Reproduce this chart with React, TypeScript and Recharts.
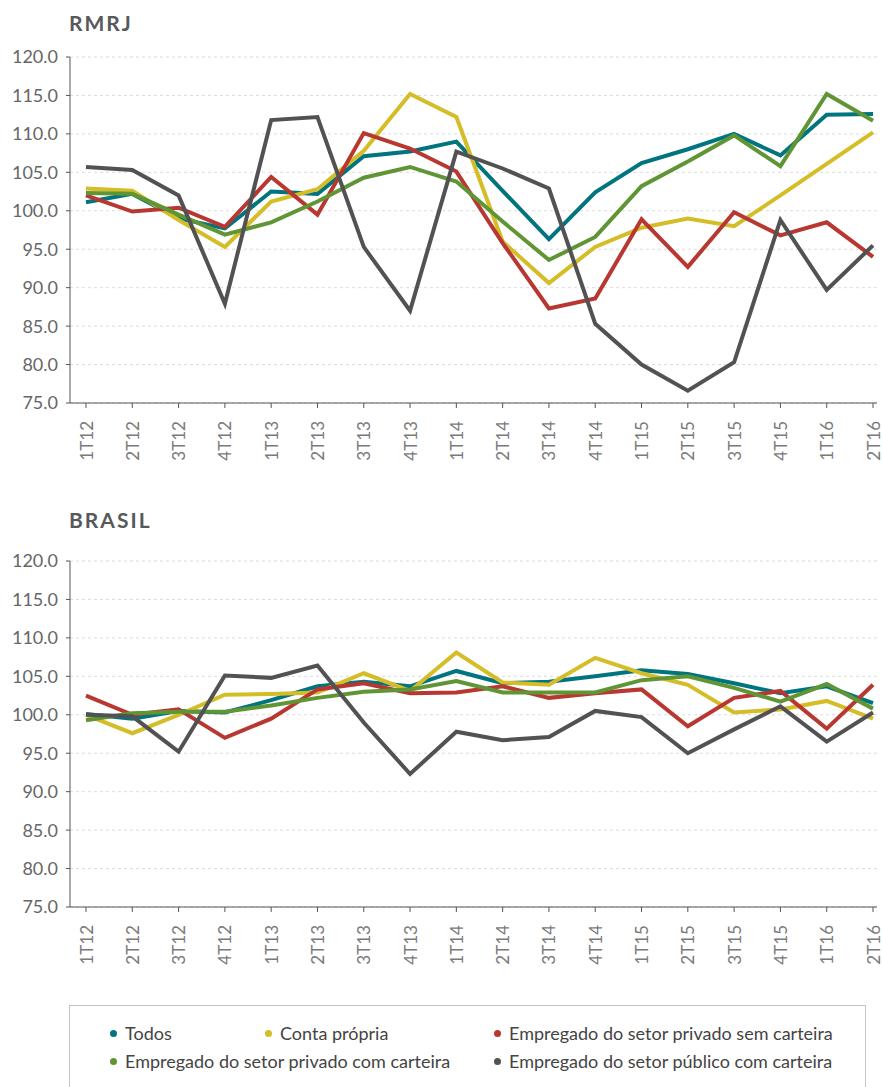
import React from "react";
import { CartesianGrid, Line, LineChart, XAxis, YAxis } from "recharts";

const categories = [
  "1T12", "2T12", "3T12", "4T12", "1T13", "2T13", "3T13", "4T13", "1T14",
  "2T14", "3T14", "4T14", "1T15", "2T15", "3T15", "4T15", "1T16", "2T16",
];

const yTicks = [75, 80, 85, 90, 95, 100, 105, 110, 115, 120];

// RMRJ
const rmrjTodos = [101.1, 102.2, 99.0, 97.7, 102.5, 102.2, 107.1, 107.7, 109.0, 102.6, 96.3, 102.4, 106.2, 108.0, 110.0, 107.2, 112.5, 112.6];
const rmrjConta = [102.9, 102.6, 98.8, 95.3, 101.2, 102.8, 107.8, 115.2, 112.2, 96.0, 90.6, 95.3, 97.8, 99.0, 98.0, 102.0, 106.1, 110.2];
const rmrjSemCarteira = [102.0, 99.9, 100.4, 97.9, 104.4, 99.5, 110.1, 108.1, 105.1, 95.8, 87.3, 88.6, 98.9, 92.7, 99.8, 96.8, 98.5, 94.0];
const rmrjComCarteira = [102.3, 102.2, 99.5, 96.9, 98.5, 101.2, 104.3, 105.7, 103.8, 98.6, 93.6, 96.6, 103.2, 106.4, 109.8, 105.8, 115.2, 111.7];
const rmrjPublico = [105.7, 105.3, 102.0, 87.9, 111.8, 112.2, 95.3, 87.0, 107.7, 105.5, 102.9, 85.3, 80.0, 76.6, 80.3, 98.8, 89.7, 95.5];

// Brasil
const brTodos = [100.1, 99.5, 100.5, 100.3, 101.9, 103.7, 104.3, 103.7, 105.7, 104.1, 104.3, 105.0, 105.8, 105.3, 104.1, 102.8, 103.7, 101.5];
const brConta = [100.0, 97.6, 100.0, 102.6, 102.7, 102.9, 105.4, 103.1, 108.1, 104.2, 103.9, 107.4, 105.4, 103.9, 100.3, 100.7, 101.8, 99.5];
const brSemCarteira = [102.5, 100.0, 100.7, 97.0, 99.5, 103.3, 104.1, 102.8, 102.9, 103.7, 102.2, 102.8, 103.3, 98.5, 102.2, 103.1, 98.2, 103.9];
const brComCarteira = [99.3, 100.2, 100.4, 100.4, 101.2, 102.2, 103.0, 103.3, 104.4, 102.9, 102.9, 102.9, 104.5, 105.0, 103.5, 101.7, 104.0, 100.8];
const brPublico = [100.0, 99.8, 95.2, 105.1, 104.8, 106.4, 99.0, 92.3, 97.8, 96.7, 97.1, 100.5, 99.7, 95.0, 98.1, 101.1, 96.5, 100.3];

const series = [
  { key: "todos", name: "Todos", color: "#00747f" },
  { key: "conta", name: "Conta própria", color: "#d4bd27" },
  { key: "sem", name: "Empregado do setor privado sem carteira", color: "#b83731" },
  { key: "com", name: "Empregado do setor privado com carteira", color: "#5f9535" },
  { key: "pub", name: "Empregado do setor público com carteira", color: "#525254" },
];

const buildData = (todos: number[], conta: number[], sem: number[], com: number[], pub: number[]) =>
  categories.map((name, i) => ({ name, todos: todos[i], conta: conta[i], sem: sem[i], com: com[i], pub: pub[i] }));

const rmrjData = buildData(rmrjTodos, rmrjConta, rmrjSemCarteira, rmrjComCarteira, rmrjPublico);
const brData = buildData(brTodos, brConta, brSemCarteira, brComCarteira, brPublico);

const FONT = "Lato, 'Open Sans', sans-serif";

function XTick({ x, y, payload }: any) {
  return (
    <text
      x={x}
      y={y}
      transform={`rotate(-90, ${x}, ${y})`}
      textAnchor="end"
      dominantBaseline="central"
      fill="#7a7a7a"
      fontSize={17}
      fontFamily={FONT}
    >
      {payload.value}
    </text>
  );
}

function Panel({ title, data, titleTop, top }: { title: string; data: any[]; titleTop: number; top: number }) {
  return (
    <>
      <div
        style={{
          position: "absolute",
          left: 69,
          top: titleTop,
          fontFamily: FONT,
          fontWeight: 700,
          fontSize: 21,
          lineHeight: "21px",
          letterSpacing: 2,
          color: "#58595b",
        }}
      >
        {title}
      </div>
      <div style={{ position: "absolute", left: 0, top }}>
        <LineChart width={883} height={470} data={data} margin={{ top: 57, right: 6, bottom: 0, left: 0 }}>
          <CartesianGrid vertical={false} stroke="#dcdcdc" strokeDasharray="3 3" />
          <XAxis
            dataKey="name"
            interval={0}
            height={67}
            padding={{ left: 16, right: 4 }}
            axisLine={{ stroke: "#555" }}
            tickLine={{ stroke: "#555" }}
            tickSize={5}
            tickMargin={13}
            tick={<XTick />}
          />
          <YAxis
            domain={[75, 120]}
            ticks={yTicks}
            width={70}
            interval={0}
            axisLine={{ stroke: "#555" }}
            tickLine={{ stroke: "#555" }}
            tickSize={4}
            tickMargin={8}
            tickFormatter={(v: number) => v.toFixed(1)}
            tick={{ fill: "#666", fontSize: 18, fontFamily: FONT }}
          />
          <YAxis
            yAxisId="r"
            orientation="right"
            mirror
            domain={[75, 120]}
            ticks={yTicks}
            width={6}
            interval={0}
            axisLine={false}
            tickLine={{ stroke: "#888" }}
            tickSize={3}
            tickFormatter={() => ""}
          />
          {series.map((s) => (
            <Line
              key={s.key}
              type="linear"
              dataKey={s.key}
              name={s.name}
              stroke={s.color}
              strokeWidth={4}
              dot={false}
              activeDot={false}
              isAnimationActive={false}
            />
          ))}
        </LineChart>
      </div>
    </>
  );
}

function LegendItem({ color, name, left, top }: { color: string; name: string; left: number; top: number }) {
  return (
    <div style={{ position: "absolute", left, top, display: "flex", alignItems: "center", whiteSpace: "nowrap" }}>
      <span style={{ width: 7, height: 7, borderRadius: "50%", background: color, marginRight: 8 }} />
      <span style={{ fontFamily: FONT, fontSize: 18, color: "#444", lineHeight: "20px" }}>{name}</span>
    </div>
  );
}

export default function App() {
  const legendPos = [
    { left: 110, top: 1023 },
    { left: 265, top: 1023 },
    { left: 494, top: 1023 },
    { left: 110, top: 1051 },
    { left: 494, top: 1051 },
  ];
  return (
    <div style={{ position: "absolute", left: 0, top: 0, width: 883, height: 1087, overflow: "hidden", background: "#fff" }}>
      <Panel title="RMRJ" data={rmrjData} titleTop={12} top={0} />
      <Panel title="BRASIL" data={brData} titleTop={509} top={504} />
      <div
        style={{
          position: "absolute",
          left: 69,
          top: 1005,
          width: 797,
          height: 120,
          border: "1px solid #c4c4c4",
          boxSizing: "border-box",
        }}
      />
      {series.map((s, i) => (
        <LegendItem key={s.key} color={s.color} name={s.name} left={legendPos[i].left} top={legendPos[i].top} />
      ))}
    </div>
  );
}
